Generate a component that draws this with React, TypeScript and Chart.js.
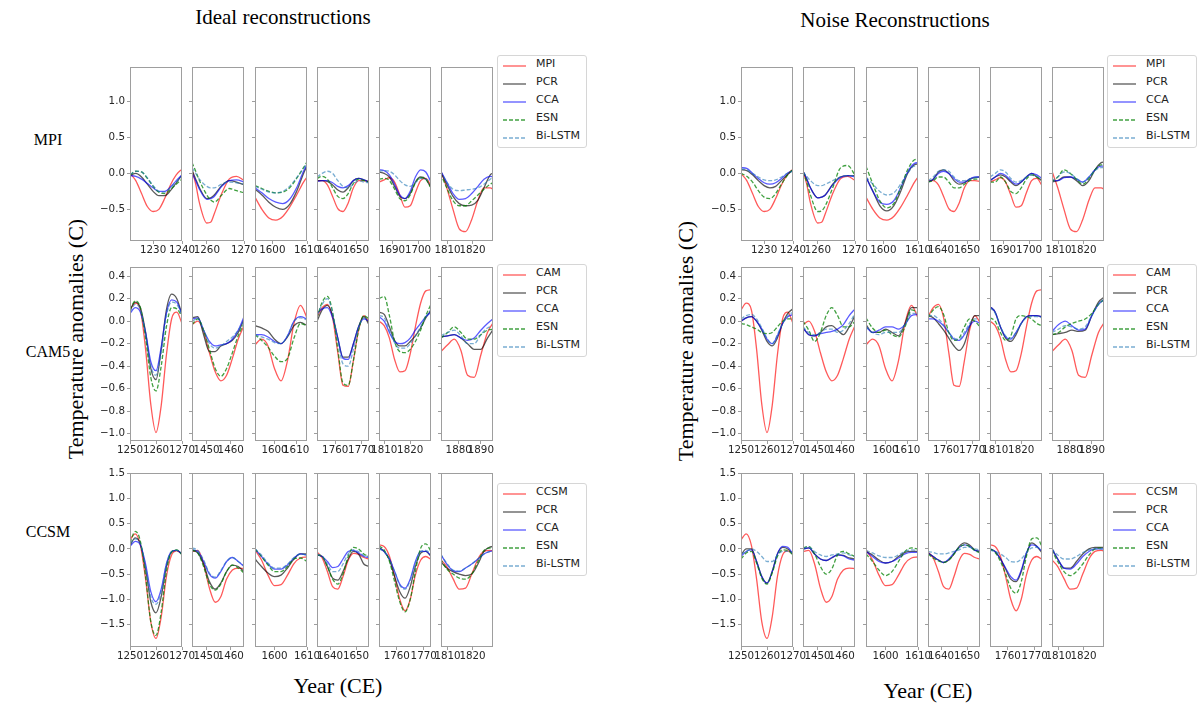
import React, { useEffect, useRef } from "react";
import { Chart, registerables } from "chart.js";

Chart.register(...registerables);

// ---------------- years (x values) ----------------
const MPI_Y1 = [1222, 1224, 1226, 1228, 1230, 1232, 1234, 1236, 1238, 1240];
const MPI_Y2 = [1256, 1257, 1258, 1260, 1261, 1262, 1264, 1266, 1268, 1270];
const MPI_Y3 = [1595, 1597, 1599, 1601, 1603, 1605, 1607, 1609, 1610];
const MPI_Y4 = [1635, 1637, 1639, 1641, 1643, 1645, 1647, 1649, 1651, 1653, 1655];
const MPI_Y5 = [1685, 1687, 1689, 1691, 1693, 1695, 1697, 1699, 1701, 1703, 1705];
const MPI_Y6 = [1807.2, 1809.7, 1812.2, 1814.7, 1817.2, 1819.7, 1822.2, 1824.6, 1827.1, 1828.2];

const CAM_Y1 = [1250, 1252, 1254, 1256, 1258, 1260, 1262, 1264, 1266, 1268, 1270];
const CAM_Y2 = [1444, 1446.4, 1448.8, 1451.2, 1453.6, 1455.9, 1458.3, 1460.7, 1463.1, 1465.5];
const CAM_Y3 = [1591, 1594, 1597, 1600, 1603, 1606, 1609, 1612, 1615];
const CAM_Y4 = [1753, 1755, 1757, 1759, 1761, 1763, 1765, 1767, 1769, 1771, 1773];
const CAM_Y5 = [1808, 1810, 1812, 1814, 1816, 1818, 1820, 1822, 1824, 1826, 1828];
const CAM_Y6 = [1872, 1875, 1878, 1881, 1884, 1887, 1890, 1893, 1896];

const CCSM_Y1 = [1250, 1252, 1254, 1256, 1258, 1260, 1262, 1264, 1266, 1268, 1270];
const CCSM_Y2 = [1444, 1446.4, 1448.8, 1451.2, 1453.6, 1455.9, 1458.3, 1460.7, 1463.1, 1465.5];
const CCSM_Y3 = [1594, 1596, 1598, 1600, 1602, 1604, 1606, 1608, 1610];
const CCSM_Y4 = [1635, 1637, 1639, 1641, 1643, 1645, 1647, 1649, 1651, 1653, 1655];
const CCSM_Y5 = [1753.4, 1755.3, 1757.3, 1759.2, 1761.1, 1763.1, 1765, 1766.9, 1768.9, 1770.8, 1772.7];
const CCSM_Y6 = [1807.2, 1809.7, 1812.2, 1814.7, 1817.2, 1819.7, 1822.2, 1824.6, 1827.1, 1828.8];

// ---------------- axis limits and tick labels ----------------
const MPI_XLIM = [[1222, 1240], [1256, 1270], [1595, 1610], [1635, 1655], [1685, 1705], [1807.4, 1828.2]];
const CAM_XLIM = [[1250, 1270], [1444, 1465.5], [1591, 1615], [1753, 1773], [1808, 1828], [1872, 1895.5]];
const CCSM_XLIM = [[1250, 1270], [1444, 1465.5], [1594, 1610], [1635, 1655], [1753.4, 1772.7], [1807.4, 1828.2]];

const MPI_XTICKS = [[1230, 1240], [1260, 1270], [1600, 1610], [1640, 1650], [1690, 1700], [1810, 1820]];
const CAM_XTICKS = [[1250, 1260, 1270], [1450, 1460], [1600, 1610], [1760, 1770], [1810, 1820], [1880, 1890]];
const CCSM_XTICKS = [[1250, 1260, 1270], [1450, 1460], [1600, 1610], [1640, 1650], [1760, 1770], [1810, 1820]];

const MPI_YLIM = [-0.94, 1.48];
const CAM_YLIM = [-1.065, 0.482];
const CCSM_YLIM = [-1.95, 1.51];
const MPI_YTICKS = [-0.5, 0, 0.5, 1.0];
const CAM_YTICKS = [-1.0, -0.8, -0.6, -0.4, -0.2, 0, 0.2, 0.4];
const CCSM_YTICKS = [-1.5, -1.0, -0.5, 0, 0.5, 1.0, 1.5];

const LEGEND_MPI = ["MPI", "PCR", "CCA", "ESN", "Bi-LSTM"];
const LEGEND_CAM = ["CAM", "PCR", "CCA", "ESN", "Bi-LSTM"];
const LEGEND_CCSM = ["CCSM", "PCR", "CCA", "ESN", "Bi-LSTM"];

// ---------------- model truth (shared by both panels) ----------------
const MPI_TRUTH_1 = [0.0, -0.1, -0.28, -0.46, -0.53, -0.5, -0.35, -0.16, -0.02, 0.06];
const MPI_TRUTH_2 = [0.04, -0.15, -0.41, -0.69, -0.68, -0.56, -0.28, -0.08, -0.04, -0.1];
const MPI_TRUTH_3 = [-0.33, -0.5, -0.62, -0.65, -0.6, -0.47, -0.3, -0.12, -0.05];
const MPI_TRUTH_4 = [-0.1, -0.1, -0.16, -0.32, -0.49, -0.53, -0.41, -0.2, -0.1, -0.1, -0.11];
const MPI_TRUTH_5 = [-0.12, -0.09, -0.06, -0.12, -0.3, -0.47, -0.45, -0.27, -0.1, -0.07, -0.17];
const MPI_TRUTH_6 = [0.05, -0.2, -0.5, -0.77, -0.81, -0.64, -0.37, -0.2, -0.2, -0.22];

const CAM_TRUTH_1 = [0.1, 0.16, 0.1, -0.25, -0.74, -0.99, -0.75, -0.3, 0.02, 0.08, -0.02];
const CAM_TRUTH_2 = [-0.03, 0.0, -0.09, -0.28, -0.45, -0.53, -0.48, -0.33, -0.16, -0.04];
const CAM_TRUTH_3 = [-0.21, -0.16, -0.22, -0.42, -0.53, -0.35, -0.02, 0.14, 0.03];
const CAM_TRUTH_4 = [0.04, 0.12, 0.15, 0.03, -0.28, -0.57, -0.58, -0.35, -0.08, 0.05, -0.01];
const CAM_TRUTH_5 = [0.0, -0.04, -0.15, -0.34, -0.45, -0.44, -0.29, -0.05, 0.16, 0.27, 0.28];
const CAM_TRUTH_6 = [-0.27, -0.21, -0.16, -0.26, -0.48, -0.5, -0.3, -0.1, 0.0];

const CCSM_TRUTH_1 = [0.18, 0.3, 0.07, -0.6, -1.45, -1.78, -1.35, -0.55, -0.12, -0.04, -0.1];
const CCSM_TRUTH_2 = [-0.05, -0.03, -0.3, -0.78, -1.06, -0.95, -0.6, -0.42, -0.38, -0.39];
const CCSM_TRUTH_3 = [-0.02, -0.22, -0.52, -0.73, -0.71, -0.52, -0.29, -0.18, -0.16];
const CCSM_TRUTH_4 = [-0.06, -0.18, -0.45, -0.75, -0.8, -0.55, -0.23, -0.09, -0.11, -0.17, -0.2];
const CCSM_TRUTH_5 = [0.08, 0.05, -0.15, -0.55, -1.0, -1.23, -1.0, -0.52, -0.22, -0.15, -0.21];
const CCSM_TRUTH_6 = [-0.21, -0.35, -0.59, -0.8, -0.78, -0.5, -0.2, -0.05, -0.03, -0.05];

// ---------------- ideal reconstructions: [PCR, CCA, ESN, Bi-LSTM] ----------------
const IDEAL_MPI_1 = [
  [-0.03, 0.0, -0.05, -0.15, -0.25, -0.31, -0.31, -0.24, -0.13, -0.02],
  [-0.03, -0.04, -0.08, -0.14, -0.2, -0.25, -0.25, -0.19, -0.1, -0.02],
  [-0.02, 0.03, 0.02, -0.07, -0.18, -0.26, -0.28, -0.22, -0.15, -0.08],
  [-0.02, 0.03, 0.02, -0.06, -0.17, -0.25, -0.26, -0.2, -0.12, -0.04],
];
const IDEAL_MPI_2 = [
  [0.05, -0.08, -0.2, -0.35, -0.34, -0.3, -0.17, -0.1, -0.12, -0.16],
  [0.0, -0.1, -0.22, -0.36, -0.35, -0.32, -0.18, -0.1, -0.09, -0.12],
  [0.15, 0.03, -0.1, -0.3, -0.37, -0.4, -0.3, -0.21, -0.24, -0.27],
  [0.08, 0.0, -0.08, -0.18, -0.2, -0.2, -0.15, -0.12, -0.13, -0.15],
];
const IDEAL_MPI_3 = [
  [-0.22, -0.3, -0.4, -0.47, -0.5, -0.43, -0.25, 0.0, 0.1],
  [-0.2, -0.27, -0.35, -0.4, -0.42, -0.36, -0.2, 0.03, 0.12],
  [-0.17, -0.21, -0.25, -0.27, -0.26, -0.2, -0.07, 0.08, 0.16],
  [-0.18, -0.22, -0.26, -0.27, -0.25, -0.18, -0.06, 0.07, 0.14],
];
const IDEAL_MPI_4 = [
  [-0.1, -0.1, -0.11, -0.16, -0.23, -0.26, -0.2, -0.1, -0.07, -0.09, -0.12],
  [-0.11, -0.1, -0.1, -0.13, -0.18, -0.2, -0.17, -0.1, -0.07, -0.09, -0.12],
  [-0.07, -0.04, -0.08, -0.2, -0.32, -0.35, -0.28, -0.14, -0.08, -0.1, -0.12],
  [-0.05, 0.0, 0.03, 0.0, -0.1, -0.18, -0.2, -0.15, -0.1, -0.12, -0.13],
];
const IDEAL_MPI_5 = [
  [0.02, 0.0, -0.05, -0.18, -0.32, -0.35, -0.28, -0.12, -0.05, -0.08, -0.2],
  [0.05, 0.04, -0.02, -0.15, -0.3, -0.35, -0.25, -0.05, 0.05, 0.02, -0.12],
  [-0.08, -0.07, -0.1, -0.22, -0.35, -0.38, -0.3, -0.13, -0.06, -0.08, -0.2],
  [0.03, 0.04, 0.03, -0.02, -0.1, -0.16, -0.18, -0.13, -0.07, -0.08, -0.12],
];
const IDEAL_MPI_6 = [
  [0.03, -0.15, -0.32, -0.42, -0.45, -0.44, -0.37, -0.2, -0.02, 0.0],
  [0.04, -0.12, -0.28, -0.36, -0.35, -0.28, -0.18, -0.08, -0.04, -0.05],
  [0.0, -0.2, -0.38, -0.45, -0.45, -0.38, -0.3, -0.22, -0.15, -0.13],
  [0.03, -0.12, -0.22, -0.24, -0.23, -0.22, -0.2, -0.15, -0.08, -0.05],
];

const IDEAL_CAM_1 = [
  [0.1, 0.17, 0.12, -0.1, -0.42, -0.52, -0.25, 0.1, 0.24, 0.2, 0.06],
  [0.07, 0.12, 0.08, -0.1, -0.36, -0.44, -0.23, 0.07, 0.19, 0.17, 0.06],
  [0.1, 0.18, 0.12, -0.15, -0.5, -0.62, -0.4, -0.05, 0.12, 0.11, 0.04],
  [0.08, 0.15, 0.1, -0.12, -0.4, -0.48, -0.28, 0.05, 0.17, 0.15, 0.06],
];
const IDEAL_CAM_2 = [
  [0.03, 0.04, -0.12, -0.27, -0.27, -0.22, -0.2, -0.17, -0.1, 0.02],
  [0.02, 0.03, -0.08, -0.18, -0.22, -0.21, -0.2, -0.16, -0.08, 0.04],
  [-0.03, 0.02, -0.08, -0.25, -0.42, -0.49, -0.42, -0.28, -0.13, -0.02],
  [0.0, 0.02, -0.08, -0.2, -0.24, -0.22, -0.18, -0.14, -0.08, 0.0],
];
const IDEAL_CAM_3 = [
  [-0.04, -0.06, -0.09, -0.16, -0.2, -0.14, -0.04, -0.01, -0.04],
  [-0.12, -0.12, -0.14, -0.18, -0.2, -0.13, 0.0, 0.04, 0.02],
  [-0.12, -0.17, -0.23, -0.31, -0.36, -0.33, -0.15, -0.02, -0.04],
  [-0.12, -0.14, -0.16, -0.19, -0.2, -0.13, 0.0, 0.03, 0.01],
];
const IDEAL_CAM_4 = [
  [0.0, 0.1, 0.14, 0.05, -0.15, -0.32, -0.32, -0.2, -0.05, 0.04, -0.03],
  [0.07, 0.11, 0.12, 0.03, -0.15, -0.33, -0.34, -0.2, -0.05, 0.02, 0.0],
  [0.03, 0.17, 0.22, 0.08, -0.25, -0.55, -0.57, -0.35, -0.08, 0.05, 0.02],
  [0.05, 0.15, 0.2, 0.07, -0.17, -0.38, -0.4, -0.25, -0.06, 0.03, 0.0],
];
const IDEAL_CAM_5 = [
  [0.08, 0.06, -0.05, -0.17, -0.22, -0.22, -0.18, -0.13, -0.06, 0.03, 0.1],
  [0.04, 0.0, -0.1, -0.18, -0.2, -0.19, -0.15, -0.08, -0.02, 0.04, 0.08],
  [0.2, 0.22, 0.05, -0.18, -0.27, -0.28, -0.25, -0.18, -0.08, 0.05, 0.15],
  [0.05, 0.03, -0.08, -0.19, -0.24, -0.24, -0.2, -0.13, -0.05, 0.04, 0.1],
];
const IDEAL_CAM_6 = [
  [-0.14, -0.13, -0.12, -0.15, -0.2, -0.25, -0.25, -0.15, -0.06],
  [-0.14, -0.13, -0.12, -0.15, -0.17, -0.15, -0.08, -0.02, 0.03],
  [-0.15, -0.1, -0.05, -0.1, -0.16, -0.16, -0.12, -0.08, -0.07],
  [-0.13, -0.1, -0.08, -0.13, -0.2, -0.2, -0.12, -0.06, -0.04],
];

const IDEAL_CCSM_1 = [
  [0.07, 0.22, 0.1, -0.4, -1.05, -1.27, -0.95, -0.35, -0.06, -0.03, -0.1],
  [0.05, 0.15, 0.08, -0.3, -0.85, -1.05, -0.8, -0.3, -0.05, -0.03, -0.1],
  [0.12, 0.35, 0.15, -0.55, -1.45, -1.72, -1.25, -0.45, -0.06, -0.02, -0.12],
  [0.1, 0.2, 0.1, -0.35, -0.95, -1.1, -0.85, -0.3, -0.05, -0.03, -0.1],
];
const IDEAL_CCSM_2 = [
  [-0.03, -0.08, -0.3, -0.65, -0.8, -0.68, -0.45, -0.32, -0.35, -0.45],
  [-0.02, -0.05, -0.25, -0.5, -0.58, -0.45, -0.25, -0.17, -0.25, -0.35],
  [-0.02, -0.08, -0.35, -0.7, -0.82, -0.7, -0.45, -0.32, -0.38, -0.48],
  [0.02, -0.03, -0.22, -0.48, -0.56, -0.43, -0.25, -0.17, -0.25, -0.33],
];
const IDEAL_CCSM_3 = [
  [-0.2, -0.35, -0.48, -0.55, -0.52, -0.38, -0.2, -0.1, -0.1],
  [0.0, -0.15, -0.3, -0.4, -0.4, -0.32, -0.18, -0.1, -0.12],
  [0.0, -0.15, -0.32, -0.45, -0.45, -0.35, -0.2, -0.18, -0.25],
  [0.0, -0.12, -0.28, -0.38, -0.38, -0.3, -0.17, -0.1, -0.12],
];
const IDEAL_CCSM_4 = [
  [-0.12, -0.15, -0.35, -0.58, -0.62, -0.45, -0.2, -0.05, -0.1, -0.3, -0.35],
  [-0.12, -0.15, -0.25, -0.37, -0.35, -0.2, -0.05, -0.03, -0.08, -0.15, -0.17],
  [-0.12, -0.15, -0.35, -0.6, -0.7, -0.5, -0.15, 0.03, 0.0, -0.1, -0.15],
  [-0.1, -0.15, -0.3, -0.45, -0.45, -0.3, -0.1, -0.02, -0.05, -0.13, -0.15],
];
const IDEAL_CCSM_5 = [
  [0.03, -0.05, -0.22, -0.55, -0.85, -0.98, -0.75, -0.35, -0.08, -0.05, -0.15],
  [0.02, -0.05, -0.2, -0.45, -0.7, -0.78, -0.6, -0.25, -0.05, -0.05, -0.13],
  [0.06, -0.02, -0.25, -0.65, -1.05, -1.25, -1.0, -0.45, 0.02, 0.1, -0.05],
  [0.0, -0.05, -0.2, -0.45, -0.72, -0.8, -0.62, -0.28, -0.05, -0.03, -0.1],
];
const IDEAL_CCSM_6 = [
  [-0.25, -0.38, -0.45, -0.5, -0.53, -0.5, -0.3, -0.05, 0.04, 0.05],
  [-0.1, -0.3, -0.43, -0.45, -0.38, -0.3, -0.2, -0.1, -0.05, -0.03],
  [-0.2, -0.4, -0.5, -0.58, -0.6, -0.5, -0.25, -0.03, 0.02, 0.03],
  [-0.1, -0.28, -0.42, -0.44, -0.38, -0.3, -0.2, -0.1, -0.05, -0.03],
];

// ---------------- noise reconstructions: [PCR, CCA, ESN, Bi-LSTM] ----------------
const NOISE_MPI_1 = [
  [0.05, 0.04, -0.02, -0.1, -0.17, -0.2, -0.18, -0.1, -0.02, 0.05],
  [0.08, 0.07, 0.0, -0.07, -0.13, -0.15, -0.13, -0.07, 0.0, 0.04],
  [0.0, -0.04, -0.12, -0.24, -0.33, -0.35, -0.28, -0.15, -0.03, 0.06],
  [0.06, 0.05, 0.0, -0.05, -0.09, -0.1, -0.09, -0.05, 0.0, 0.03],
];
const NOISE_MPI_2 = [
  [0.03, -0.08, -0.2, -0.34, -0.33, -0.3, -0.15, -0.05, -0.03, -0.03],
  [0.03, -0.07, -0.2, -0.34, -0.33, -0.3, -0.16, -0.06, -0.03, -0.05],
  [0.02, -0.12, -0.3, -0.53, -0.52, -0.45, -0.2, 0.07, 0.11, -0.02],
  [0.02, -0.04, -0.1, -0.17, -0.17, -0.15, -0.1, -0.05, -0.03, -0.03],
];
const NOISE_MPI_3 = [
  [-0.05, -0.25, -0.45, -0.52, -0.45, -0.25, 0.0, 0.12, 0.13],
  [-0.05, -0.25, -0.4, -0.43, -0.38, -0.2, 0.02, 0.14, 0.15],
  [0.1, -0.15, -0.38, -0.48, -0.42, -0.2, 0.05, 0.19, 0.2],
  [-0.05, -0.15, -0.25, -0.3, -0.27, -0.15, 0.0, 0.1, 0.1],
];
const NOISE_MPI_4 = [
  [-0.12, -0.08, 0.02, 0.05, 0.0, -0.1, -0.15, -0.13, -0.08, -0.06, -0.05],
  [-0.12, -0.08, 0.0, 0.03, 0.0, -0.07, -0.12, -0.12, -0.08, -0.05, -0.05],
  [-0.12, -0.1, -0.05, -0.05, -0.12, -0.2, -0.2, -0.15, -0.1, -0.08, -0.08],
  [-0.1, -0.05, 0.03, 0.05, 0.03, -0.05, -0.1, -0.1, -0.08, -0.06, -0.05],
];
const NOISE_MPI_5 = [
  [-0.1, -0.05, -0.02, -0.05, -0.12, -0.17, -0.12, -0.05, 0.0, -0.05, -0.1],
  [-0.1, -0.05, 0.0, -0.03, -0.1, -0.15, -0.12, -0.05, 0.0, -0.02, -0.07],
  [-0.12, -0.12, -0.05, -0.12, -0.25, -0.28, -0.2, -0.08, -0.02, -0.05, -0.1],
  [-0.05, 0.0, 0.05, 0.02, -0.07, -0.12, -0.1, -0.05, -0.02, -0.04, -0.07],
];
const NOISE_MPI_6 = [
  [-0.12, -0.1, -0.05, -0.05, -0.1, -0.17, -0.1, 0.05, 0.15, 0.16],
  [-0.1, -0.1, -0.06, -0.05, -0.08, -0.12, -0.05, 0.05, 0.1, 0.1],
  [-0.12, -0.05, 0.05, 0.0, -0.08, -0.15, -0.07, 0.05, 0.12, 0.12],
  [-0.1, -0.05, 0.02, 0.0, -0.07, -0.12, -0.05, 0.04, 0.08, 0.08],
];

const NOISE_CAM_1 = [
  [0.0, 0.03, 0.04, 0.0, -0.08, -0.18, -0.22, -0.15, -0.02, 0.07, 0.11],
  [0.0, 0.03, 0.04, 0.0, -0.07, -0.16, -0.2, -0.13, -0.02, 0.04, 0.06],
  [-0.02, -0.03, -0.05, -0.07, -0.1, -0.11, -0.1, -0.05, 0.0, 0.02, 0.02],
  [0.02, 0.05, 0.06, 0.02, -0.06, -0.15, -0.2, -0.12, -0.02, 0.05, 0.08],
];
const NOISE_CAM_2 = [
  [-0.06, -0.12, -0.13, -0.1, -0.05, -0.04, -0.08, -0.12, -0.05, 0.05],
  [-0.06, -0.12, -0.13, -0.11, -0.1, -0.09, -0.07, -0.03, 0.05, 0.11],
  [0.0, -0.08, -0.18, -0.1, 0.05, 0.12, 0.05, -0.05, -0.05, 0.0],
  [-0.05, -0.1, -0.12, -0.1, -0.07, -0.07, -0.1, -0.08, -0.02, 0.07],
];
const NOISE_CAM_3 = [
  [-0.03, -0.1, -0.1, -0.07, -0.1, -0.13, -0.02, 0.12, 0.12],
  [-0.05, -0.1, -0.08, -0.05, -0.05, -0.07, -0.03, 0.05, 0.06],
  [0.03, -0.06, -0.1, -0.08, -0.12, -0.14, -0.05, 0.1, 0.08],
  [-0.05, -0.1, -0.12, -0.1, -0.1, -0.1, -0.03, 0.07, 0.07],
];
const NOISE_CAM_4 = [
  [0.05, 0.03, -0.02, -0.08, -0.15, -0.22, -0.26, -0.2, -0.05, 0.05, 0.05],
  [0.02, 0.02, 0.0, -0.04, -0.1, -0.16, -0.17, -0.12, -0.04, 0.0, -0.02],
  [0.03, 0.1, 0.13, 0.06, -0.1, -0.17, -0.15, -0.05, 0.02, 0.0, -0.05],
  [0.05, 0.05, 0.02, -0.03, -0.1, -0.15, -0.16, -0.1, -0.02, 0.02, 0.02],
];
const NOISE_CAM_5 = [
  [0.13, 0.08, -0.05, -0.15, -0.18, -0.12, -0.02, 0.04, 0.05, 0.05, 0.04],
  [0.13, 0.08, -0.05, -0.14, -0.16, -0.1, -0.02, 0.04, 0.05, 0.05, 0.04],
  [0.03, 0.0, -0.1, -0.17, -0.13, 0.02, 0.05, 0.04, 0.02, -0.02, -0.04],
  [0.12, 0.07, -0.05, -0.13, -0.15, -0.1, -0.02, 0.03, 0.04, 0.04, 0.03],
];
const NOISE_CAM_6 = [
  [-0.12, -0.11, -0.1, -0.08, -0.09, -0.08, 0.05, 0.17, 0.22],
  [-0.09, -0.03, 0.0, -0.04, -0.08, -0.07, 0.05, 0.15, 0.2],
  [-0.12, -0.1, -0.05, -0.02, 0.0, 0.02, 0.07, 0.15, 0.2],
  [-0.1, -0.07, -0.04, -0.05, -0.07, -0.05, 0.05, 0.15, 0.2],
];

const NOISE_CCSM_1 = [
  [-0.12, 0.0, 0.0, -0.25, -0.55, -0.68, -0.45, -0.1, 0.03, 0.0, -0.1],
  [-0.15, -0.05, -0.02, -0.25, -0.55, -0.68, -0.45, -0.1, 0.05, 0.03, -0.1],
  [-0.2, -0.08, -0.05, -0.28, -0.58, -0.7, -0.48, -0.15, -0.02, -0.03, -0.12],
  [-0.1, -0.05, 0.0, -0.05, -0.15, -0.25, -0.25, -0.12, -0.05, -0.05, -0.08],
];
const NOISE_CCSM_2 = [
  [0.0, 0.02, -0.1, -0.2, -0.23, -0.18, -0.12, -0.13, -0.18, -0.2],
  [0.0, 0.02, -0.1, -0.2, -0.23, -0.17, -0.12, -0.14, -0.2, -0.22],
  [0.02, 0.05, -0.1, -0.35, -0.5, -0.4, -0.12, -0.05, -0.1, -0.15],
  [0.02, 0.04, -0.05, -0.12, -0.15, -0.12, -0.1, -0.08, -0.12, -0.15],
];
const NOISE_CCSM_3 = [
  [-0.05, -0.12, -0.22, -0.28, -0.25, -0.15, -0.07, -0.05, -0.05],
  [-0.05, -0.15, -0.25, -0.28, -0.25, -0.18, -0.1, -0.07, -0.07],
  [-0.1, -0.25, -0.42, -0.53, -0.45, -0.25, -0.05, 0.02, 0.0],
  [-0.03, -0.08, -0.14, -0.17, -0.17, -0.12, -0.05, -0.02, -0.03],
];
const NOISE_CCSM_4 = [
  [-0.08, -0.15, -0.22, -0.27, -0.22, -0.1, 0.05, 0.12, 0.08, -0.02, -0.05],
  [-0.08, -0.15, -0.22, -0.27, -0.2, -0.08, 0.03, 0.08, 0.05, -0.03, -0.05],
  [-0.1, -0.18, -0.24, -0.27, -0.22, -0.1, 0.03, 0.08, 0.05, -0.03, -0.08],
  [-0.05, -0.07, -0.1, -0.1, -0.08, -0.05, -0.02, 0.03, 0.03, 0.0, -0.02],
];
const NOISE_CCSM_5 = [
  [0.0, -0.05, -0.2, -0.4, -0.6, -0.65, -0.45, -0.1, 0.12, 0.05, -0.08],
  [0.0, -0.05, -0.2, -0.38, -0.55, -0.62, -0.42, -0.08, 0.08, 0.05, -0.05],
  [0.0, -0.07, -0.25, -0.5, -0.78, -0.88, -0.65, -0.15, 0.2, 0.22, 0.05],
  [-0.03, -0.05, -0.1, -0.17, -0.25, -0.26, -0.2, -0.08, 0.02, 0.03, -0.02],
];
const NOISE_CCSM_6 = [
  [0.02, -0.2, -0.38, -0.38, -0.25, -0.1, 0.0, 0.03, 0.03, 0.03],
  [0.02, -0.2, -0.38, -0.4, -0.3, -0.15, -0.05, 0.0, 0.0, 0.0],
  [-0.02, -0.25, -0.45, -0.53, -0.45, -0.3, -0.12, 0.0, 0.02, 0.02],
  [0.0, -0.12, -0.2, -0.2, -0.15, -0.07, -0.02, 0.0, 0.0, 0.0],
];

// ---------------- styling ----------------
const COLORS = [
  "rgba(255,0,0,0.65)",
  "rgba(0,0,0,0.65)",
  "rgba(0,0,255,0.65)",
  "rgba(0,128,0,0.75)",
  "rgba(31,119,180,0.6)",
];
const DASHES: number[][] = [[], [], [], [4, 2], [4, 2]];
const FRAME = "#9e9e9e";
const XTICK_FONT = { family: "'DejaVu Sans', sans-serif", size: 10.3 };
const YTICK_FONT = { family: "'DejaVu Sans', sans-serif", size: 10.3 };

const AXW = 45;
const PADT = 10;
const PADR = 28;
const AXH = 28;
const BOXW = 52;
const BOXH = 174;

const ROW_TOPS = [67, 267, 473];
const PANEL_LEFTS = [
  [130, 192, 255, 317, 379, 441],
  [741, 803, 866, 928, 990, 1052],
];

type RowDef = {
  label: string;
  legend: string[];
  years: number[][];
  xlim: number[][];
  xticks: number[][];
  ylim: number[];
  yticks: number[];
  truth: number[][];
  ideal: number[][][];
  noise: number[][][];
};

const ROWS: RowDef[] = [
  {
    label: "MPI",
    legend: LEGEND_MPI,
    years: [MPI_Y1, MPI_Y2, MPI_Y3, MPI_Y4, MPI_Y5, MPI_Y6],
    xlim: MPI_XLIM,
    xticks: MPI_XTICKS,
    ylim: MPI_YLIM,
    yticks: MPI_YTICKS,
    truth: [MPI_TRUTH_1, MPI_TRUTH_2, MPI_TRUTH_3, MPI_TRUTH_4, MPI_TRUTH_5, MPI_TRUTH_6],
    ideal: [IDEAL_MPI_1, IDEAL_MPI_2, IDEAL_MPI_3, IDEAL_MPI_4, IDEAL_MPI_5, IDEAL_MPI_6],
    noise: [NOISE_MPI_1, NOISE_MPI_2, NOISE_MPI_3, NOISE_MPI_4, NOISE_MPI_5, NOISE_MPI_6],
  },
  {
    label: "CAM5",
    legend: LEGEND_CAM,
    years: [CAM_Y1, CAM_Y2, CAM_Y3, CAM_Y4, CAM_Y5, CAM_Y6],
    xlim: CAM_XLIM,
    xticks: CAM_XTICKS,
    ylim: CAM_YLIM,
    yticks: CAM_YTICKS,
    truth: [CAM_TRUTH_1, CAM_TRUTH_2, CAM_TRUTH_3, CAM_TRUTH_4, CAM_TRUTH_5, CAM_TRUTH_6],
    ideal: [IDEAL_CAM_1, IDEAL_CAM_2, IDEAL_CAM_3, IDEAL_CAM_4, IDEAL_CAM_5, IDEAL_CAM_6],
    noise: [NOISE_CAM_1, NOISE_CAM_2, NOISE_CAM_3, NOISE_CAM_4, NOISE_CAM_5, NOISE_CAM_6],
  },
  {
    label: "CCSM",
    legend: LEGEND_CCSM,
    years: [CCSM_Y1, CCSM_Y2, CCSM_Y3, CCSM_Y4, CCSM_Y5, CCSM_Y6],
    xlim: CCSM_XLIM,
    xticks: CCSM_XTICKS,
    ylim: CCSM_YLIM,
    yticks: CCSM_YTICKS,
    truth: [CCSM_TRUTH_1, CCSM_TRUTH_2, CCSM_TRUTH_3, CCSM_TRUTH_4, CCSM_TRUTH_5, CCSM_TRUTH_6],
    ideal: [IDEAL_CCSM_1, IDEAL_CCSM_2, IDEAL_CCSM_3, IDEAL_CCSM_4, IDEAL_CCSM_5, IDEAL_CCSM_6],
    noise: [NOISE_CCSM_1, NOISE_CCSM_2, NOISE_CCSM_3, NOISE_CCSM_4, NOISE_CCSM_5, NOISE_CCSM_6],
  },
];

const framePlugin = {
  id: "frame",
  afterDraw(chart: any) {
    const { ctx, chartArea: a } = chart;
    ctx.save();
    ctx.strokeStyle = FRAME;
    ctx.lineWidth = 1;
    ctx.strokeRect(Math.round(a.left) + 0.5, Math.round(a.top) + 0.5, Math.round(a.right - a.left) - 1, Math.round(a.bottom - a.top) - 1);
    ctx.restore();
  },
};

const fmtY = (v: number) => {
  const s = Math.abs(v) < 1e-9 ? "0.0" : v.toFixed(1);
  return s.replace("-", "\u2212");
};

type SubProps = {
  left: number;
  top: number;
  years: number[];
  series: number[][];
  xlim: number[];
  xticks: number[];
  ylim: number[];
  yticks: number[];
  showY: boolean;
};

function Subplot(p: SubProps) {
  const ref = useRef<HTMLCanvasElement>(null);
  const W = AXW + BOXW + PADR;
  const H = PADT + BOXH + AXH;
  useEffect(() => {
    const datasets = p.series.map((vals, i) => ({
      data: p.years.map((x, j) => ({ x, y: vals[j] })),
      borderColor: COLORS[i],
      borderWidth: 1.3,
      borderDash: DASHES[i],
      pointRadius: 0,
      fill: false,
      cubicInterpolationMode: "monotone" as const,
      order: 5 - i,
    }));
    const chart = new Chart(ref.current as HTMLCanvasElement, {
      type: "line",
      data: { datasets },
      plugins: [framePlugin],
      options: {
        animation: false,
        responsive: false,
        maintainAspectRatio: false,
        events: [],
        layout: { padding: { left: 0, top: PADT, right: PADR, bottom: 0 } },
        plugins: { legend: { display: false }, tooltip: { enabled: false } },
        scales: {
          x: {
            type: "linear",
            min: p.xlim[0],
            max: p.xlim[1],
            afterBuildTicks: (s: any) => {
              s.ticks = p.xticks.map((v) => ({ value: v }));
            },
            afterFit: (s: any) => {
              s.height = AXH;
              s.paddingLeft = 0;
              s.paddingRight = 0;
            },
            ticks: {
              autoSkip: false,
              maxRotation: 0,
              minRotation: 0,
              padding: 0,
              font: XTICK_FONT,
              color: "#262626",
              callback: (v: any) => String(v),
            },
            grid: { drawOnChartArea: false, drawTicks: true, tickLength: 3, color: FRAME },
            border: { display: false },
          },
          y: {
            type: "linear",
            min: p.ylim[0],
            max: p.ylim[1],
            afterBuildTicks: (s: any) => {
              s.ticks = p.yticks.map((v) => ({ value: v }));
            },
            afterFit: (s: any) => {
              s.width = AXW;
              s.paddingTop = 0;
              s.paddingBottom = 0;
            },
            ticks: {
              display: p.showY,
              padding: 2,
              font: YTICK_FONT,
              color: "#262626",
              callback: (v: any) => fmtY(Number(v)),
            },
            grid: { drawOnChartArea: false, drawTicks: true, tickLength: 3, color: FRAME },
            border: { display: false },
          },
        },
      },
    } as any);
    return () => chart.destroy();
  }, []);
  return (
    <canvas
      ref={ref}
      width={W}
      height={H}
      style={{ position: "absolute", left: p.left - AXW, top: p.top - PADT, width: W, height: H }}
    />
  );
}

function Legend({ left, top, names }: { left: number; top: number; names: string[] }) {
  return (
    <div
      style={{
        position: "absolute",
        left,
        top,
        width: 90,
        height: 93,
        border: "1px solid #d6d6d6",
        borderRadius: 3,
        background: "#fff",
        boxSizing: "border-box",
      }}
    >
      {names.map((n, i) => (
        <div key={n} style={{ position: "absolute", left: 0, top: 1 + i * 18, height: 18, width: 88 }}>
          <svg width={30} height={18} style={{ position: "absolute", left: 0, top: 0 }}>
            <line
              x1={5}
              x2={28}
              y1={9}
              y2={9}
              stroke={COLORS[i]}
              strokeWidth={1.3}
              strokeDasharray={DASHES[i].length ? DASHES[i].join(" ") : undefined}
            />
          </svg>
          <span
            style={{
              position: "absolute",
              left: 38,
              top: 0,
              lineHeight: "18px",
              font: "11px 'DejaVu Sans', sans-serif",
              color: "#222",
              whiteSpace: "nowrap",
            }}
          >
            {n}
          </span>
        </div>
      ))}
    </div>
  );
}

const serif = "'Liberation Serif', 'Times New Roman', serif";

function Text({ x, y, size, children, rotate }: { x: number; y: number; size: number; children: any; rotate?: boolean }) {
  return (
    <div
      style={{
        position: "absolute",
        left: x,
        top: y,
        transform: `translate(-50%, -50%)${rotate ? " rotate(-90deg)" : ""}`,
        font: `${size}px ${serif}`,
        color: "#000",
        whiteSpace: "nowrap",
        lineHeight: 1,
      }}
    >
      {children}
    </div>
  );
}

const ROW_LABEL_Y = [140, 352, 532];
const ROW_LABEL_X = 48;
const LEGEND_TOPS = [55, 264, 483];
const LEGEND_LEFTS = [497, 1107];

export default function App() {
  return (
    <div
      style={{
        position: "absolute",
        left: 0,
        top: 0,
        width: 1199,
        height: 704,
        background: "#fff",
        overflow: "hidden",
      }}
    >
      <Text x={283} y={17} size={21}>Ideal reconstructions</Text>
      <Text x={895} y={20} size={21}>Noise Reconstructions</Text>
      <Text x={76} y={339} size={22} rotate>Temperature anomalies (C)</Text>
      <Text x={686} y={341} size={22} rotate>Temperature anomalies (C)</Text>
      <Text x={338} y={686} size={22}>Year (CE)</Text>
      <Text x={928} y={691} size={22}>Year (CE)</Text>
      {ROWS.map((r, ri) => (
        <Text key={"rl" + ri} x={ROW_LABEL_X} y={ROW_LABEL_Y[ri]} size={16}>
          {r.label}
        </Text>
      ))}
      {[0, 1].map((pi) =>
        ROWS.map((r, ri) =>
          PANEL_LEFTS[pi].map((lx, ci) => (
            <Subplot
              key={`${pi}-${ri}-${ci}`}
              left={lx}
              top={ROW_TOPS[ri]}
              years={r.years[ci]}
              series={[r.truth[ci], ...(pi === 0 ? r.ideal[ci] : r.noise[ci])]}
              xlim={r.xlim[ci]}
              xticks={r.xticks[ci]}
              ylim={r.ylim}
              yticks={r.yticks}
              showY={ci === 0}
            />
          ))
        )
      )}
      {[0, 1].map((pi) =>
        ROWS.map((r, ri) => (
          <Legend key={`lg${pi}-${ri}`} left={LEGEND_LEFTS[pi]} top={LEGEND_TOPS[ri]} names={r.legend} />
        ))
      )}
    </div>
  );
}
